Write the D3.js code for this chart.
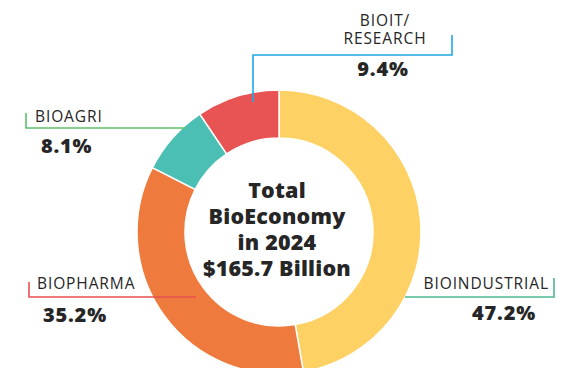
<!DOCTYPE html>
<html>
<head>
<meta charset="utf-8">
<script src="https://cdn.jsdelivr.net/npm/d3@7"></script>
<style>
  html, body { margin: 0; padding: 0; background: #ffffff; }
  svg { display: block; }
</style>
</head>
<body>
<svg id="chart" width="565" height="383"></svg>
<script>
// ---- data ----
const categories = ["BIOINDUSTRIAL", "BIOPHARMA", "BIOAGRI", "BIOIT/ RESEARCH"];
const labelLines = [["BIOINDUSTRIAL"], ["BIOPHARMA"], ["BIOAGRI"], ["BIOIT/", "RESEARCH"]];
const values = [47.2, 35.2, 8.1, 9.4];
const sliceColors = ["#FDD164", "#EE7B3D", "#4BBFB3", "#E85454"];
const calloutColors = ["#4DB890", "#E8504F", "#5CBF6A", "#1EA8E6"];
const centerText = ["Total", "BioEconomy", "in 2024", "$165.7 Billion"];

// ---- layout ----
const W = 565, H = 383;
const cx = 279, cy = 232, rOuter = 142, rInner = 94;
const svg = d3.select("#chart");
const ink = "#262626";
const labelFont = "'Open Sans', sans-serif";

const callouts = [
  { // BIOINDUSTRIAL
    path: [[405, 297], [554, 297], [554, 278]],
    label: { x: 549, y: 289, anchor: "end" },
    pct: { x: 504, y: 320, anchor: "middle" }
  },
  { // BIOPHARMA
    path: [[29, 282], [29, 297], [196, 297]],
    label: { x: 37, y: 289, anchor: "start" },
    pct: { x: 43, y: 322, anchor: "start" }
  },
  { // BIOAGRI
    path: [[26, 113], [26, 128], [186, 128]],
    label: { x: 35, y: 122, anchor: "start" },
    pct: { x: 41, y: 153, anchor: "start" }
  },
  { // BIOIT / RESEARCH
    path: [[253, 102], [253, 55], [452, 55], [452, 35]],
    label: { x: 385, y: 26, anchor: "middle", dy: 18 },
    pct: { x: 383, y: 76, anchor: "middle" }
  }
];

// ---- donut ----
svg.append("defs").append("clipPath").attr("id", "clipBottom")
  .append("rect").attr("x", 0).attr("y", 0).attr("width", W).attr("height", 368);

const data = categories.map((c, i) => ({ cat: c, value: values[i], i }));
const pie = d3.pie().value(d => d.value).sort(null).startAngle(0).endAngle(2 * Math.PI);
const arc = d3.arc().innerRadius(rInner).outerRadius(rOuter);
const color = d3.scaleOrdinal().domain(categories).range(sliceColors);
const lineGen = d3.line();

const g = svg.append("g").attr("clip-path", "url(#clipBottom)")
  .append("g").attr("transform", `translate(${cx},${cy})`);

g.selectAll("path.slice")
  .data(pie(data))
  .join("path")
  .attr("class", "slice")
  .attr("d", arc)
  .attr("fill", d => color(d.data.cat))
  .attr("stroke", "#ffffff")
  .attr("stroke-width", 1.5);

// ---- callouts ----
callouts.forEach((c, i) => {
  svg.append("path")
    .attr("d", lineGen(c.path))
    .attr("fill", "none")
    .attr("stroke", calloutColors[i])
    .attr("stroke-width", 1.6);

  const t = svg.append("text")
    .attr("x", c.label.x).attr("y", c.label.y)
    .attr("text-anchor", c.label.anchor)
    .attr("font-family", labelFont)
    .attr("font-size", 15.5)
    .attr("font-weight", 500)
    .attr("letter-spacing", 0.9)
    .attr("fill", ink);
  labelLines[i].forEach((ln, k) => {
    t.append("tspan").attr("x", c.label.x).attr("dy", k === 0 ? 0 : (c.label.dy || 18)).text(ln);
  });

  svg.append("text")
    .attr("x", c.pct.x).attr("y", c.pct.y)
    .attr("text-anchor", c.pct.anchor)
    .attr("font-family", labelFont)
    .attr("font-size", 20)
    .attr("font-weight", 800)
    .attr("letter-spacing", 0.8)
    .attr("fill", ink)
    .text(d3.format(".1f")(values[i]) + "%");
});

// ---- center text ----
const ct = svg.append("text")
  .attr("text-anchor", "middle")
  .attr("font-family", labelFont)
  .attr("font-size", 21.5)
  .attr("font-weight", 800)
  .attr("letter-spacing", 0.2)
  .attr("fill", ink);
centerText.forEach((ln, k) => {
  ct.append("tspan").attr("x", 277).attr("y", 198 + k * 26).text(ln);
});
</script>
</body>
</html>
